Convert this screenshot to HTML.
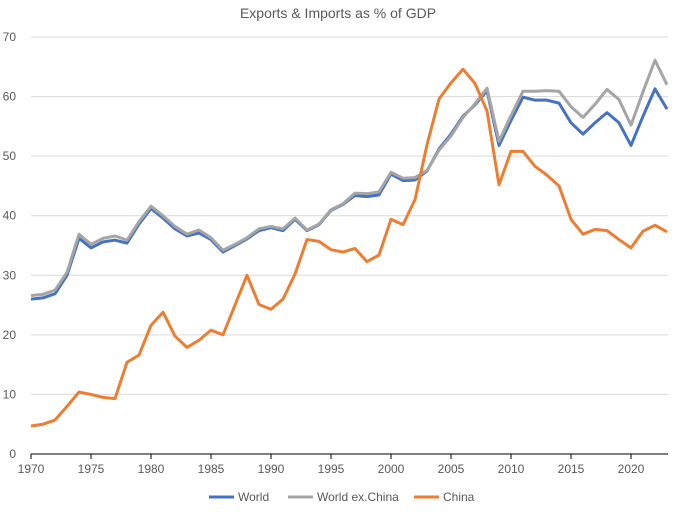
<!DOCTYPE html>
<html><head><meta charset="utf-8"><style>
body{margin:0;background:#fff;font-family:"Liberation Sans",sans-serif}
svg text{font-family:"Liberation Sans",sans-serif;fill:#595959}
</style></head><body>
<svg id="c" width="676" height="507">
<text x="338" y="18" text-anchor="middle" font-size="14">Exports &amp; Imports as % of GDP</text>
<g id="grid"></g><g id="lines"></g><g id="legend"></g>
</svg>
<script>
const years=[];for(let y=1970;y<=2023;y++)years.push(y);
const world=[26.0,26.2,26.9,30,36.2,34.6,35.6,35.9,35.4,38.6,41.2,39.6,37.8,36.6,37.1,36.0,33.9,35.0,36.1,37.5,38.0,37.5,39.4,37.5,38.5,40.9,41.9,43.4,43.2,43.5,47.0,45.9,46.0,47.5,51.2,53.7,56.7,58.6,61.0,51.8,56.0,59.9,59.4,59.4,58.9,55.6,53.7,55.6,57.3,55.6,51.8,56.7,61.3,57.9];
const worldExChina=[26.6,26.8,27.5,30.5,36.9,35.2,36.2,36.6,35.9,39.0,41.6,40.0,38.2,36.9,37.6,36.3,34.2,35.2,36.3,37.8,38.2,37.8,39.6,37.6,38.6,41.0,42.0,43.8,43.7,44.0,47.3,46.3,46.4,47.6,51.0,53.4,56.5,58.8,61.4,52.5,56.8,60.9,60.9,61.0,60.9,58.3,56.5,58.7,61.2,59.5,55.2,60.8,66.1,62.0];
const china=[4.7,5.0,5.7,8,10.4,10.0,9.5,9.3,15.4,16.6,21.6,23.8,19.8,17.9,19.1,20.8,20.0,25,30,25.1,24.3,26,30.2,36,35.7,34.3,33.9,34.5,32.3,33.4,39.4,38.5,42.7,51.9,59.6,62.3,64.6,62.2,57.6,45.2,50.8,50.8,48.3,46.8,45.0,39.4,36.9,37.7,37.5,36.0,34.6,37.4,38.4,37.3];
const yTicks=[0,10,20,30,40,50,60,70];
const xTicks=[1970,1975,1980,1985,1990,1995,2000,2005,2010,2015,2020];
const X=y=>31+(y-1970)*12, Y=v=>454-v*5.957;
const NS="http://www.w3.org/2000/svg";
function mk(p,t,a){const e=document.createElementNS(NS,t);for(const k in a)e.setAttribute(k,a[k]);p.appendChild(e);return e;}
const g=document.getElementById('grid');
yTicks.forEach(v=>{
 if(v>0){const l=mk(g,'line',{x1:31,x2:668,y1:Y(v),y2:Y(v),stroke:'#d9d9d9'});
 
 }
 const t=mk(g,'text',{x:16,y:Y(v)+4,'text-anchor':'end','font-size':12});t.textContent=v;
 
 
});
const ax=mk(g,'line',{x1:31,x2:668,y1:454,y2:454,stroke:'#000'});


xTicks.forEach(y=>{
 mk(g,'line',{x1:X(y),x2:X(y),y1:454,y2:459,stroke:'#000'});
 const t=mk(g,'text',{x:X(y),y:473,'text-anchor':'middle','font-size':12});t.textContent=y;
 
 
});
const L=document.getElementById('lines');
[[world,'#4472c4','world-line'],[worldExChina,'#a5a5a5','world-ex-china-line'],[china,'#ed7d31','china-line']].forEach(([d,c,n])=>{
 const p=mk(L,'polyline',{points:d.map((v,i)=>X(years[i])+','+Y(v)).join(' '),fill:'none',stroke:c,'stroke-width':3,'stroke-linejoin':'round'});
 
 
});
const lg=document.getElementById('legend');
[['World','#4472c4',209],['World ex.China','#a5a5a5',288],['China','#ed7d31',414]].forEach(([n,c,x])=>{
 mk(lg,'line',{x1:x,x2:x+25,y1:497,y2:497,stroke:c,'stroke-width':3});
 const t=mk(lg,'text',{x:x+29,y:501,'font-size':12});t.textContent=n;
 
 
});
</script>
</body></html>
